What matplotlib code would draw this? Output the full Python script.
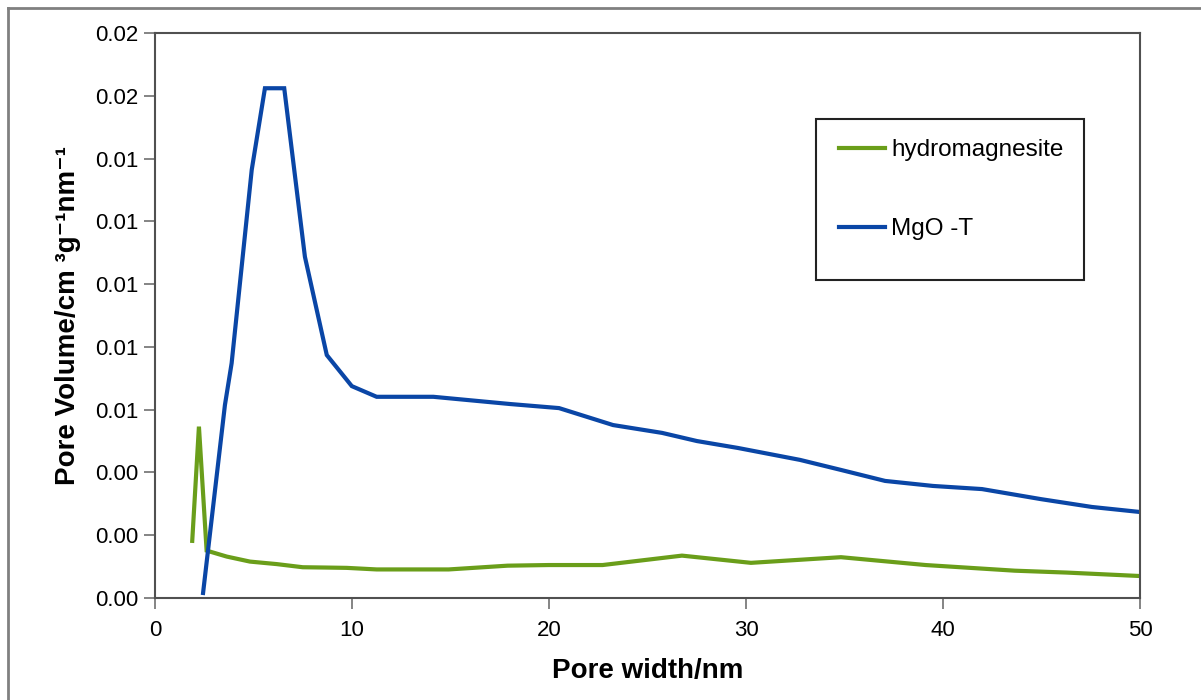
import matplotlib
matplotlib.use("Agg")
import matplotlib.pyplot as plt
from matplotlib.patches import Rectangle
from matplotlib.lines import Line2D
from matplotlib.ticker import FormatStrFormatter, MultipleLocator

plt.rcParams['font.family'] = ['Liberation Sans', 'DejaVu Sans']

# Data
hydro_x = [1.89, 2.23, 2.62, 3.64, 4.82, 6.18, 7.5, 8.7, 9.73, 11.25, 14.91, 17.9,
           19.98, 22.72, 26.75, 30.25, 34.82, 39.12, 43.65, 46.28, 50.0]
hydro_y = [0.00182, 0.00546, 0.00151, 0.00132, 0.00116, 0.00108, 0.00098, 0.00097,
           0.00096, 0.00091, 0.00091, 0.00103, 0.00105, 0.00105, 0.00135, 0.00112,
           0.00130, 0.00105, 0.00087, 0.00081, 0.00070]

mgo_x = [2.44, 3.55, 3.89, 4.91, 5.58, 6.56, 7.61, 8.72, 9.99, 11.25, 14.13, 15.82,
         18.02, 20.51, 23.25, 25.74, 27.51, 29.59, 32.74, 34.82, 37.06, 39.49, 41.98,
         44.97, 47.56, 50.0]
mgo_y = [0.00016, 0.00615, 0.00748, 0.01364, 0.01624, 0.01624, 0.01087, 0.00774,
         0.00675, 0.00641, 0.00641, 0.00631, 0.00618, 0.00605, 0.00551, 0.00526,
         0.00500, 0.00478, 0.00440, 0.00408, 0.00373, 0.00357, 0.00347, 0.00315,
         0.00290, 0.00274]

labels = ["hydromagnesite", "MgO -T"]
colors = ["#6A9E1A", "#0A46A6"]

fig = plt.figure(figsize=(12.01, 7.00), dpi=100)
ax = fig.add_axes([155/1201, 1-598/700, (1140-155)/1201, (598-33)/700])

ax.plot(hydro_x, hydro_y, color=colors[0], lw=3.0, label=labels[0], solid_joinstyle='miter')
ax.plot(mgo_x, mgo_y, color=colors[1], lw=3.0, label=labels[1], solid_joinstyle='miter')

ax.set_xlim(0, 50)
ax.set_ylim(0, 0.018)
ax.xaxis.set_major_locator(MultipleLocator(10))
ax.yaxis.set_major_locator(MultipleLocator(0.002))
ax.yaxis.set_major_formatter(FormatStrFormatter('%.2f'))
ax.tick_params(axis='both', direction='out', length=8, width=1.2, color='#707070',
               labelsize=16)
ax.tick_params(axis='y', pad=4)
ax.tick_params(axis='x', pad=8)

for s in ax.spines.values():
    s.set_color('#505050')
    s.set_linewidth(1.5)

ax.set_xlabel("Pore width/nm", fontsize=20, fontweight='bold', labelpad=12)
ax.set_ylabel("Pore Volume/cm \u00b3g\u207b\u00b9nm\u207b\u00b9", fontsize=20,
              fontweight='bold', labelpad=10)

leg = ax.legend(loc='upper left', bbox_to_anchor=(0.6944, 0.8124), frameon=False,
                fontsize=17.5, handlelength=1.9, handletextpad=0.25,
                labelspacing=2.36, borderpad=0, borderaxespad=0)
ax.add_patch(Rectangle((0.671, 0.563), 0.272, 0.285, transform=ax.transAxes,
                       fill=False, edgecolor='#222222', lw=1.5, clip_on=False))

# outer frame (top and left edges visible)
fig.add_artist(Line2D([8/1201, 1.0], [1-8/700, 1-8/700], transform=fig.transFigure,
                      color='#808080', lw=2))
fig.add_artist(Line2D([8/1201, 8/1201], [0.0, 1-8/700], transform=fig.transFigure,
                      color='#808080', lw=2))

fig.savefig("out.png", dpi=100)
